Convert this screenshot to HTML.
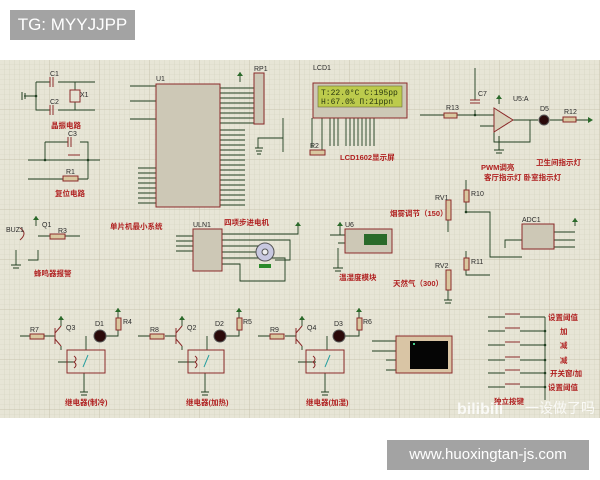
<!DOCTYPE html>
<html><head><meta charset="utf-8"><style>
html,body{margin:0;padding:0;background:#fff;}
body{width:600px;height:480px;overflow:hidden;position:relative;font-family:"Liberation Sans","Noto Sans CJK SC",sans-serif;}
.badge{position:absolute;background:#a3a3a3;color:#fff;}
</style></head><body>
<div class="badge" style="left:10px;top:10px;width:125px;height:30px;font-size:17px;line-height:30px;text-align:center;">TG: MYYJJPP</div>
<svg style="position:absolute;left:0;top:60px" width="600" height="358" viewBox="0 60 600 358" xmlns="http://www.w3.org/2000/svg" font-family="Liberation Sans, Noto Sans CJK SC, sans-serif">
<defs>
<pattern id="g" width="5" height="5" patternUnits="userSpaceOnUse" x="0" y="60"><path d="M5 0V5H0" fill="none" stroke="#d3d0bd" stroke-width="0.6"/></pattern>
<pattern id="G" width="50" height="50" patternUnits="userSpaceOnUse" x="0" y="60"><path d="M50 0V50H0" fill="none" stroke="#c2bea8" stroke-width="0.8"/></pattern>
</defs>
<rect x="0" y="60" width="600" height="358" fill="#e7e5d6"/>
<rect x="0" y="60" width="600" height="358" fill="url(#g)"/>
<rect x="0" y="60" width="600" height="358" fill="url(#G)"/>
<g fill="none" stroke="#1f3d1f" stroke-width="0.9">
<!-- crystal -->
<path d="M36 82H50M58 82H95M36 82V110H50M58 110H95M24 96H36M75 82V90M75 102V110"/>
<!-- reset -->
<path d="M45 142H68M80 142H88V179M28 160H100M28 179H63M78 179H88M45 142V160"/>
<!-- MCU pins -->
<path d="M130 86H156M130 101H156M130 119H156M138 168H156M138 173H156M138 178H156M138 183H156M138 188H156M138 193H156M138 198H156M138 203H156"/>
<path d="M220 88H254M220 93H254M220 98H254M220 103H254M220 108H254M220 113H254M220 118H254M220 123H254M240 82V72"/>
<path d="M220 130H245M220 135H245M220 140H245M220 145H245M220 150H245M220 155H245M220 160H245M220 165H245M220 170H245M220 175H245M220 180H245M220 185H245M220 190H245M220 195H245M220 200H245M220 205H245"/>
<!-- LCD -->
<path d="M283 118V138H258V148M283 118V138M283 128V152M310 152H322M322 118V152M312 118V148M330 118V146M334 118V146M338 118V146M346 118V146M350 118V146M354 118V146M358 118V146M362 118V146M366 118V146M370 118V146M374 118V146"/>
<!-- opamp -->
<path d="M420 115H494M475 68V100M475 110V115M480 126H494V142H530V120M513 120H538M550 120H563M576 120H590M499 104V95M499 136V150"/>
<!-- RV / ADC -->
<path d="M466 180V190M466 202V212H490V257H522M466 251V258M466 270V275H490M448 220V232M448 290V300M554 232H575M554 240H575M554 247H575M575 226V218M522 240H505V248"/>
<!-- buzzer -->
<path d="M36 216V226M38 236H50M65 236H80M38 250V260H28M16 250V265"/>
<!-- ULN -->
<path d="M176 236H193M176 241H193M176 246H193M176 251H193M222 234H298V222M222 240H290V260H275M222 246H260M222 252H256M222 258H285V268M222 264H240V281H285V258"/>
<!-- U6 -->
<path d="M330 235H345M340 235V222M338 243H345M338 248V268"/>
<!-- relays -->
<path d="M20 336H30M44 336H55M61 326V316M61 346V350M94 336H118V330M118 318V308M86 350V336M84 373V392M75 362H58"/>
<path d="M138 336H150M165 336H176M182 326V316M182 346V350M214 336H239V330M239 318V308M207 350V336M205 373V392M196 362H178"/>
<path d="M258 336H270M285 336H296M302 326V316M302 346V350M334 336H359V330M359 318V308M327 350V336M325 373V392M316 362H298"/>
<!-- terminal -->
<path d="M372 341H396M372 351H396M386 360H396M386 370H396"/>
<!-- buttons -->
<path d="M488 317H505M520 317H545M488 331H505M520 331H545M488 345H505M520 345H545M488 360H505M520 360H545M488 373H505M520 373H545M488 387H505M520 387H545M545 317V400"/>
</g>
<g fill="#1f3d1f"><circle cx="36" cy="96" r="1.3"/><circle cx="45" cy="160" r="1.3"/><circle cx="88" cy="160" r="1.3"/><circle cx="475" cy="115" r="1.3"/><circle cx="466" cy="212" r="1.3"/><circle cx="545" cy="331" r="1.3"/><circle cx="545" cy="345" r="1.3"/><circle cx="545" cy="360" r="1.3"/><circle cx="545" cy="373" r="1.3"/><circle cx="545" cy="387" r="1.3"/></g>
<!-- arrows (power) -->
<g fill="#2a6a2a"><path d="M240 72l-3 4h6z"/><path d="M499 95l-3 4h6z"/><path d="M575 218l-3 4h6z"/><path d="M298 222l-3 4h6z"/><path d="M340 222l-3 4h6z"/><path d="M36 216l-3 4h6z"/><path d="M118 308l-3 4h6z"/><path d="M239 308l-3 4h6z"/><path d="M359 308l-3 4h6z"/><path d="M61 316l-3 4h6z"/><path d="M182 316l-3 4h6z"/><path d="M302 316l-3 4h6z"/><path d="M593 120l-5 -3v6z"/></g>
<g stroke="#1f3d1f" stroke-width="1"><path d="M255 148h8M256 151h6M257 154h4"/><path d="M494 150h10M496 153h6"/><path d="M444 300h8M445 303h6"/><path d="M333 268h10M335 271h6"/><path d="M11 265h10M13 268h6"/><path d="M80 392h8M81 395h6M201 392h8M202 395h6M321 392h8M322 395h6"/><path d="M22 92v8M25 93v6M54 160v0"/></g>
<!-- components red -->
<g fill="none" stroke="#8b2a2a" stroke-width="1">
<path d="M50 77v10M53 77v10M50 105v10M53 105v10M70 90h10v12h-10z"/>
<path d="M68 137v10M71 137v10"/>
<rect x="63" y="176" width="15" height="5" fill="#d9c8a0"/>
<rect x="156" y="84" width="64" height="123" fill="#cdc8b6"/>
<rect x="254" y="73" width="10" height="51" fill="#cdc8b6"/>
<rect x="313" y="83" width="94" height="35" fill="#cdc8b6"/>
<rect x="310" y="150" width="15" height="5" fill="#d9c8a0"/>
<rect x="444" y="113" width="13" height="5" fill="#d9c8a0"/>
<rect x="563" y="117" width="13" height="5" fill="#d9c8a0"/>
<path d="M470 100h10M470 103h10"/>
<path d="M494 108L513 120L494 132Z" fill="#d9d2bc"/>
<rect x="464" y="190" width="5" height="12" fill="#d9c8a0"/>
<rect x="464" y="258" width="5" height="12" fill="#d9c8a0"/>
<rect x="446" y="200" width="5" height="20" fill="#d9c8a0"/>
<rect x="446" y="270" width="5" height="20" fill="#d9c8a0"/>
<rect x="522" y="224" width="32" height="25" fill="#cdc8b6"/>
<rect x="50" y="234" width="15" height="5" fill="#d9c8a0"/>
<rect x="193" y="229" width="29" height="42" fill="#cdc8b6"/>
<rect x="345" y="229" width="47" height="24" fill="#cdc8b6"/>
<rect x="30" y="334" width="14" height="5" fill="#d9c8a0"/><rect x="150" y="334" width="14" height="5" fill="#d9c8a0"/><rect x="270" y="334" width="14" height="5" fill="#d9c8a0"/>
<rect x="116" y="318" width="5" height="12" fill="#d9c8a0"/><rect x="237" y="318" width="5" height="12" fill="#d9c8a0"/><rect x="357" y="318" width="5" height="12" fill="#d9c8a0"/>
<rect x="67" y="350" width="38" height="23"/><rect x="188" y="350" width="36" height="23"/><rect x="306" y="350" width="38" height="23"/>
<rect x="396" y="336" width="56" height="37" fill="#d9c5a5"/>
<path d="M55 328v16M55 333l6-7M55 339l6 7M176 328v16M176 333l6-7M176 339l6 7M296 328v16M296 333l6-7M296 339l6 7"/>
<path d="M68 155h12M505 314h15M505 328h15M505 342h15M505 357h15M505 370h15M505 384h15"/>
<path d="M20 228q8 5 0 12"/>
</g>
<g stroke="#2aa0a0" stroke-width="1"><path d="M88 355l-5 12M209 355l-5 12M330 355l-5 12"/></g>
<g fill="none" stroke="#8b2a2a"><path d="M74 356q4 3 0 6q4 3 0 6M195 356q4 3 0 6q4 3 0 6M313 356q4 3 0 6q4 3 0 6"/></g>
<rect x="318" y="86" width="84" height="21" fill="#bccb4c" stroke="#6b6b3a" stroke-width="0.6"/>
<text x="321" y="95" font-family="Liberation Mono, monospace" font-size="8" fill="#2b3a10">T:22.0°C C:195pp</text>
<text x="321" y="104" font-family="Liberation Mono, monospace" font-size="8" fill="#2b3a10">H:67.0%  П:21ppn</text>
<rect x="410" y="341" width="38" height="28" fill="#050505"/>
<rect x="413" y="343" width="2" height="2" fill="#4c8"/>
<rect x="364" y="234" width="23" height="11" fill="#2a6a2a"/>
<circle cx="265" cy="252" r="9" fill="#c8c8e0" stroke="#555" stroke-width="1"/>
<circle cx="265" cy="252" r="3" fill="#eee" stroke="#555"/>
<rect x="259" y="264" width="12" height="4" fill="#2a8a2a"/>
<g fill="#2a0a0a" stroke="#555"><circle cx="544" cy="120" r="5"/><circle cx="100" cy="336" r="6"/><circle cx="220" cy="336" r="6"/><circle cx="339" cy="336" r="6"/></g>
<g font-size="7" fill="#2a2a2a">
<text x="50" y="76">C1</text><text x="50" y="104">C2</text><text x="80" y="97">X1</text><text x="68" y="136">C3</text><text x="66" y="174">R1</text>
<text x="156" y="81">U1</text><text x="254" y="71">RP1</text><text x="313" y="70">LCD1</text><text x="310" y="148">R2</text>
<text x="446" y="110">R13</text><text x="478" y="96">C7</text><text x="513" y="101">U5:A</text><text x="540" y="111">D5</text><text x="564" y="114">R12</text>
<text x="471" y="196">R10</text><text x="435" y="200">RV1</text><text x="471" y="264">R11</text><text x="435" y="268">RV2</text><text x="522" y="222">ADC1</text>
<text x="6" y="232">BUZ1</text><text x="42" y="227">Q1</text><text x="58" y="233">R3</text>
<text x="193" y="227">ULN1</text><text x="345" y="227">U6</text>
<text x="30" y="332">R7</text><text x="66" y="330">Q3</text><text x="95" y="326">D1</text><text x="123" y="324">R4</text>
<text x="150" y="332">R8</text><text x="187" y="330">Q2</text><text x="215" y="326">D2</text><text x="243" y="324">R5</text>
<text x="270" y="332">R9</text><text x="307" y="330">Q4</text><text x="334" y="326">D3</text><text x="363" y="324">R6</text>
</g>
<g font-size="7.5" font-weight="bold" fill="#b02020" font-family="Liberation Sans, Noto Sans CJK SC, sans-serif">
<text x="51" y="128">晶振电路</text><text x="55" y="196">复位电路</text>
<text x="110" y="229">单片机最小系统</text><text x="224" y="225">四项步进电机</text>
<text x="340" y="160">LCD1602显示屏</text>
<text x="481" y="170">PWM调亮</text><text x="536" y="165">卫生间指示灯</text><text x="484" y="180">客厅指示灯 卧室指示灯</text>
<text x="390" y="216">烟雾调节（150）</text><text x="393" y="286">天然气（300）</text>
<text x="339" y="280">温湿度模块</text><text x="34" y="276">蜂鸣器报警</text>
<text x="65" y="405">继电器(制冷)</text><text x="186" y="405">继电器(加热)</text><text x="306" y="405">继电器(加湿)</text>
<text x="548" y="320">设置阈值</text><text x="560" y="334">加</text><text x="560" y="348">减</text><text x="560" y="363">减</text><text x="550" y="376">开关窗/加</text><text x="548" y="390">设置阈值</text>
<text x="494" y="404">独立按键</text>
</g>
<text x="457" y="414" font-size="16" font-weight="bold" fill="#ffffff" fill-opacity="0.8">bilibili</text>
<text x="525" y="413" font-size="14" fill="#ffffff" fill-opacity="0.8" font-family="Liberation Sans, Noto Sans CJK SC, sans-serif">一设做了吗</text>
</svg>
<div class="badge" style="left:387px;top:440px;width:202px;height:30px;font-size:15px;line-height:30px;text-align:center;">www.huoxingtan-js.com</div>
</body></html>
